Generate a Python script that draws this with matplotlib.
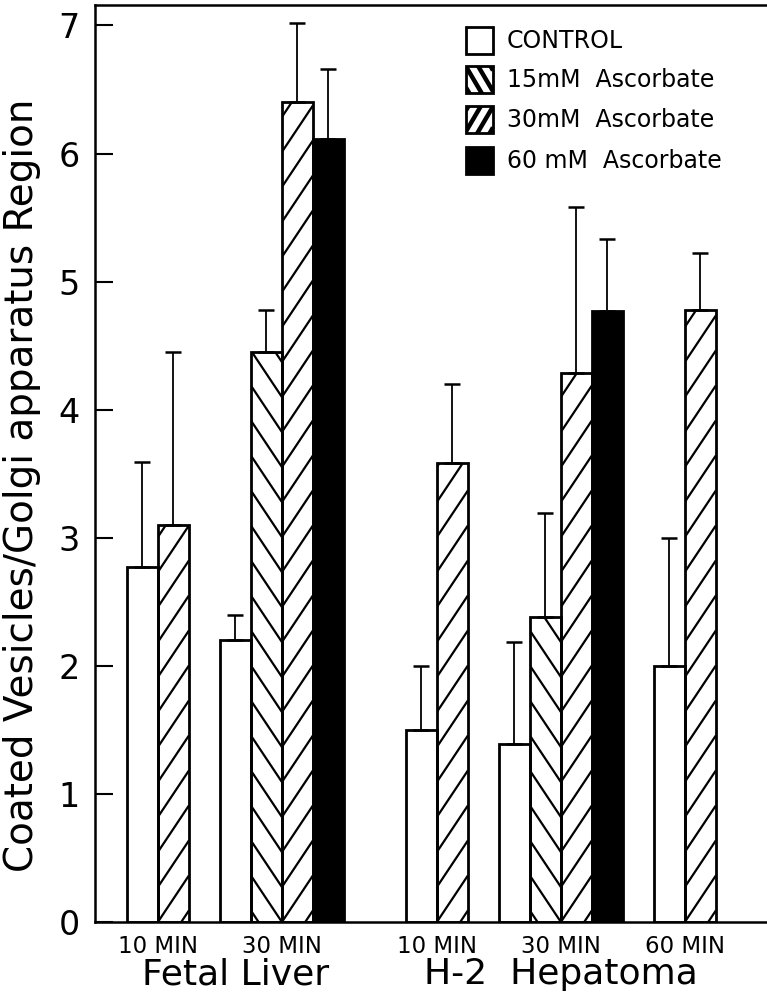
import numpy as np
import matplotlib.pyplot as plt
from matplotlib.collections import LineCollection
from matplotlib.patches import Rectangle

plt.rcParams['font.family'] = ['DejaVu Sans']

# ---- data ------------------------------------------------------------
tissues = ['Fetal Liver', 'H-2  Hepatoma']
cluster_tissue = [0, 0, 1, 1, 1]
times = ['10 MIN', '30 MIN', '10 MIN', '30 MIN', '60 MIN']
treatments = ['CONTROL', '15mM  Ascorbate', '30mM  Ascorbate', '60 mM  Ascorbate']

nan = np.nan
control     = [2.77, 2.20, 1.50, 1.39, 2.00]
control_err = [0.82, 0.20, 0.50, 0.80, 1.00]
asc15       = [nan, 4.45, nan, 2.38, nan]
asc15_err   = [nan, 0.33, nan, 0.81, nan]
asc30       = [3.10, 6.40, 3.58, 4.29, 4.78]
asc30_err   = [1.35, 0.62, 0.62, 1.29, 0.44]
asc60       = [nan, 6.11, nan, 4.77, nan]
asc60_err   = [nan, 0.55, nan, 0.56, nan]

# ---- layout ----------------------------------------------------------
W, H = 767, 997
ax_l, ax_r, ax_t, ax_b = 95, 767, 5, 922
cluster_start = [0, 3, 9, 12, 17]      # in bar widths
bw = 1.0
xmin, xmax = -1.03, 20.65
ymin, ymax = 0, 7.16

fig = plt.figure(figsize=(W / 100, H / 100), dpi=100)
ax = fig.add_axes([ax_l / W, 1 - ax_b / H, (ax_r - ax_l) / W, (ax_b - ax_t) / H])
ax.set_xlim(xmin, xmax)
ax.set_ylim(ymin, ymax)
px_x = (ax_r - ax_l) / (xmax - xmin)
px_y = (ax_b - ax_t) / (ymax - ymin)


def hatch_bar(ax, patch, direction, slope=1.5, period=35, lw=1.6):
    """steep single hatch, anchored at y=0 so neighbouring bars form chevrons"""
    x0, y0 = patch.get_x(), patch.get_y()
    w, h = patch.get_width(), patch.get_height()
    s = slope * px_x / px_y
    p = period / px_y
    rise = s * w
    segs = []
    for k in range(-int(rise / p) - 2, int(h / p) + 2):
        ya = y0 + k * p
        if direction == '/':
            segs.append([(x0, ya), (x0 + w, ya + rise)])
        else:
            segs.append([(x0 + w, ya), (x0, ya + rise)])
    lc = LineCollection(segs, colors='black', linewidths=lw, zorder=2)
    ax.add_collection(lc, autolim=False)
    lc.set_clip_path(patch)


series = [(control, control_err), (asc15, asc15_err),
          (asc30, asc30_err), (asc60, asc60_err)]
faces = ['white', 'white', 'white', 'black']
hatches = [None, '\\', '/', None]

slot = [0] * len(times)
for i, (vals, errs) in enumerate(series):
    for c in range(len(times)):
        if np.isnan(vals[c]):
            continue
        x = cluster_start[c] + slot[c] * bw
        slot[c] += 1
        bar = ax.bar(x, vals[c], bw, align='edge', color=faces[i],
                     edgecolor='none', zorder=1)[0]
        if hatches[i]:
            hatch_bar(ax, bar, hatches[i])
        ax.bar(x, vals[c], bw, align='edge', fill=False,
               edgecolor='black', linewidth=2.0, zorder=3)
        ax.errorbar(x + bw / 2, vals[c], yerr=[[0], [errs[c]]], fmt='none',
                    ecolor='black', elinewidth=1.3, capsize=5.5, capthick=1.8,
                    zorder=4)

# cluster / tissue labels
centers = [cluster_start[c] + slot[c] * bw / 2 for c in range(len(times))]
ax.set_xticks(centers)
ax.set_xticklabels(times)
for t, name in enumerate(tissues):
    idx = [c for c in range(len(times)) if cluster_tissue[c] == t]
    left = cluster_start[idx[0]]
    right = cluster_start[idx[-1]] + slot[idx[-1]] * bw
    ax.text((left + right) / 2, -0.057, name, transform=ax.get_xaxis_transform(),
            ha='center', va='center', fontsize=26)

ax.set_yticks(range(8))
ax.tick_params(axis='y', direction='in', length=13, width=1.5,
               labelsize=24, pad=11)
ax.tick_params(axis='x', length=0, labelsize=16.5, pad=9)
for side in ['left', 'top', 'bottom']:
    ax.spines[side].set_linewidth(1.8)
ax.spines['right'].set_visible(False)

fig.text(22 / W, 1 - 485 / H, 'Coated Vesicles/Golgi apparatus Region',
         rotation=90, ha='center', va='center', fontsize=28)

# ---- legend (hand drawn boxes with the same steep hatching) ----------
def fig_xy(x, y):
    return x / W, 1 - y / H


box = 27
rows = [41, 80, 120, 161]
for i, label in enumerate(treatments):
    bx, by = 466, rows[i] - box / 2
    rect = Rectangle(fig_xy(bx, by + box), box / W, box / H,
                     transform=fig.transFigure, facecolor=faces[i],
                     edgecolor='black', linewidth=2.0)
    fig.add_artist(rect)
    if hatches[i]:
        rise, p = 1.7 * box, 21
        segs = []
        for k in range(-5, 5):
            ya = by + k * p
            if hatches[i] == '\\':
                pts = [(bx, ya), (bx + box, ya + rise)]
            else:
                pts = [(bx, ya + rise), (bx + box, ya)]
            segs.append([fig_xy(*q) for q in pts])
        lc = LineCollection(segs, colors='black', linewidths=3.2,
                            transform=fig.transFigure)
        fig.add_artist(lc)
        lc.set_clip_path(rect)
    fig.text(507 / W, 1 - rows[i] / H, label, ha='left', va='center',
             fontsize=17)

fig.savefig('out.png', dpi=100)
